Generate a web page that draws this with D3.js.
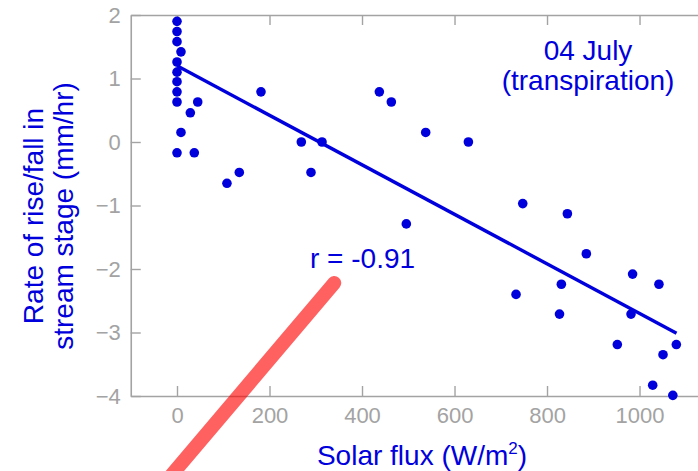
<!DOCTYPE html>
<html>
<head>
<meta charset="utf-8">
<script src="https://cdn.jsdelivr.net/npm/d3@7"></script>
<style>
  body { margin: 0; background: #fff; }
  svg { display: block; font-family: "Liberation Sans", Arial, sans-serif; }
</style>
</head>
<body>
<div id="chart"></div>
<script>
// stage chart
const width = 698;   // window width
const height = 471;  // window height

// solar flux (W/m2) and rate of rise/fall (mm/hr)
const fluxValues = [0, 0, 0, 8.6, 0, 0, 0, 0, 0, 44.8, 28.8, 8.6, 0, 37.4,
    181.6, 268.8, 313.5, 289.7, 134.7, 108,
    437.5, 463.4, 537.7, 630, 495.8,
    747.5, 844, 885, 985, 1042, 733, 831, 827, 981.6, 952, 1079.6, 1050.8, 1028.5, 1072];
const rateValues = [1.9, 1.74, 1.58, 1.42, 1.26, 1.1, 0.95, 0.79, 0.63, 0.63, 0.46, 0.15, -0.17, -0.17,
    0.79, 0, 0, -0.48, -0.48, -0.65,
    0.79, 0.63, 0.15, 0, -1.29,
    -0.97, -1.13, -1.76, -2.08, -2.24, -2.4, -2.24, -2.71, -2.71, -3.19, -3.19, -3.35, -3.83, -3.99];

// regression line ends
const fitFlux = [0, 1080];
const fitRate = [1.2, -3.01];

// hand-drawn red pointer (data units)
const pointerFlux = [340, -94];
const pointerRate = [-2.22, -5.95];

const xTicks = [0, 200, 400, 600, 800, 1000];
const yTicks = [-4, -3, -2, -1, 0, 1, 2];

const blue = "#0000dd";
const grey = "#a3a3a3";

const svg = d3.select("#chart").append("svg")
    .attr("width", width)
    .attr("height", height);

const x = d3.scaleLinear().domain([-100, 1150]).range([130.75, 708.9]);
const y = d3.scaleLinear().domain([-4, 2]).range([396, 15]);

// axes (ticks point inward)
const styleAxis = g => {
    g.selectAll(".domain").attr("stroke", grey).attr("stroke-width", 1.6);
    g.selectAll(".tick line").attr("stroke", grey).attr("stroke-width", 1.4);
    g.selectAll(".tick text").attr("fill", grey).attr("font-size", 22)
        .attr("font-family", "'Liberation Sans', Arial, sans-serif");
};

svg.append("g")
    .attr("transform", `translate(0,${y(-4)})`)
    .call(d3.axisBottom(x).tickValues(xTicks).tickSize(-10).tickSizeOuter(0).tickPadding(11)
        .tickFormat(d3.format("d")))
    .call(styleAxis);

svg.append("g")
    .attr("transform", `translate(0,${y(2)})`)
    .call(d3.axisTop(x).tickValues(xTicks).tickSize(-10).tickSizeOuter(0).tickFormat(""))
    .call(styleAxis);

svg.append("g")
    .attr("transform", `translate(${x(-100)},0)`)
    .call(d3.axisLeft(y).tickValues(yTicks).tickSize(-10).tickSizeOuter(0).tickPadding(10)
        .tickFormat(d3.format("d")))
    .call(styleAxis);

// regression line
svg.append("line")
    .attr("x1", x(fitFlux[0])).attr("y1", y(fitRate[0]))
    .attr("x2", x(fitFlux[1])).attr("y2", y(fitRate[1]))
    .attr("stroke", blue)
    .attr("stroke-width", 3.4);

// points
svg.append("g")
    .selectAll("circle")
    .data(fluxValues.map((f, i) => [f, rateValues[i]]))
    .enter().append("circle")
    .attr("cx", d => x(d[0]))
    .attr("cy", d => y(d[1]))
    .attr("r", 4.8)
    .attr("fill", blue);

// labels
svg.append("text")
    .attr("x", 588).attr("y", 60)
    .attr("text-anchor", "middle")
    .attr("font-size", 28).attr("fill", blue)
    .text("04 July");
svg.append("text")
    .attr("x", 588).attr("y", 90)
    .attr("text-anchor", "middle")
    .attr("font-size", 28).attr("fill", blue)
    .text("(transpiration)");

svg.append("text")
    .attr("x", 310).attr("y", 268)
    .attr("font-size", 28).attr("fill", blue)
    .text("r = -0.91");

const xTitle = svg.append("text")
    .attr("x", 422).attr("y", 465)
    .attr("text-anchor", "middle")
    .attr("font-size", 28).attr("fill", blue);
xTitle.append("tspan").text("Solar flux (W/m");
xTitle.append("tspan").attr("font-size", 17).attr("dy", -11).text("2");
xTitle.append("tspan").attr("dy", 11).text(")");

const yTitle = svg.append("text")
    .attr("transform", "translate(43,216) rotate(-90)")
    .attr("text-anchor", "middle")
    .attr("font-size", 28).attr("fill", blue);
yTitle.append("tspan").attr("x", 0).attr("y", 0).text("Rate of rise/fall in");
yTitle.append("tspan").attr("x", 0).attr("y", 30).text("stream stage (mm/hr)");

// red pointer stroke
svg.append("line")
    .attr("x1", x(pointerFlux[0])).attr("y1", y(pointerRate[0]))
    .attr("x2", x(pointerFlux[1])).attr("y2", y(pointerRate[1]))
    .attr("stroke", "#ff0000")
    .attr("stroke-opacity", 0.62)
    .attr("stroke-width", 14)
    .attr("stroke-linecap", "round");
</script>
</body>
</html>
